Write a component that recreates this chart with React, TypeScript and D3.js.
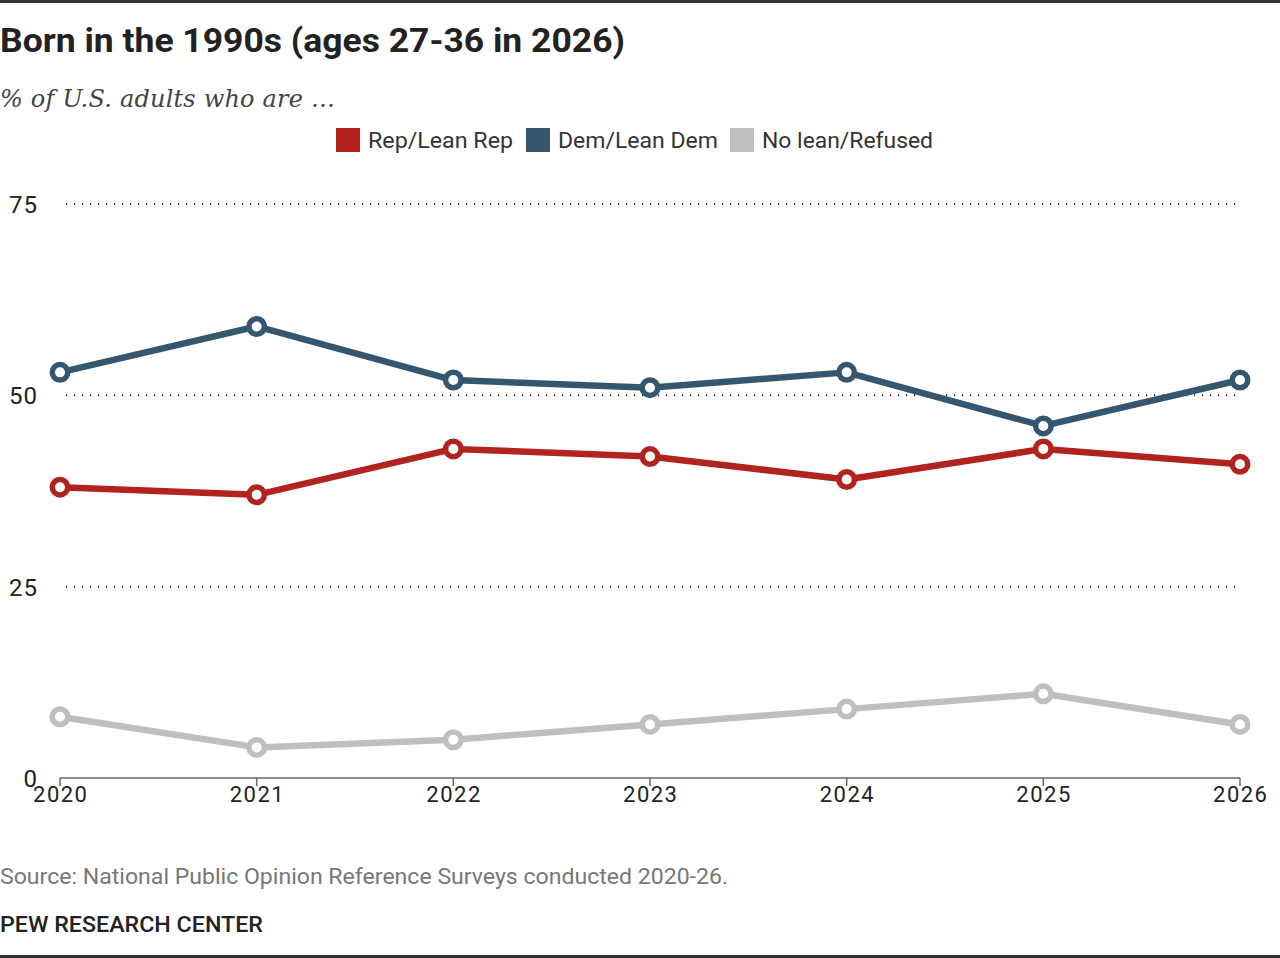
import React from "react";
import * as d3 from "d3";

const years = [2020, 2021, 2022, 2023, 2024, 2025, 2026];
const repValues = [38, 37, 43, 42, 39, 43, 41];
const demValues = [53, 59, 52, 51, 53, 46, 52];
const noLeanValues = [8, 4, 5, 7, 9, 11, 7];
const yTicks = [0, 25, 50, 75];
const seriesNames = ["Rep/Lean Rep", "Dem/Lean Dem", "No lean/Refused"];
const seriesColors = ["#b0231f", "#34566f", "#bfbfbf"];

const W = 1280;
const H = 958;

export default function App() {
  const x = d3.scaleLinear().domain([2020, 2026]).range([60, 1240]);
  const y = d3.scaleLinear().domain([0, 75]).range([778, 204]);
  const line = d3
    .line<number>()
    .x((_, i) => x(years[i]))
    .y((d) => y(d));
  const series = [repValues, demValues, noLeanValues];
  const drawOrder = [2, 0, 1];
  const sans = "Roboto, 'Liberation Sans', Arial, sans-serif";
  const legendX = [336, 526, 730];
  const legendLen = [145, 160, 171];

  return (
    <svg width={W} height={H} style={{ position: "absolute", left: 0, top: 0, background: "#fff" }}>
      <rect x={0} y={0} width={W} height={3} fill="#333" />
      <rect x={0} y={955} width={W} height={3} fill="#333" />
      <text x={0} y={52} fontFamily={sans} fontWeight={700} fontSize={34} fill="#222" textLength={625} lengthAdjust="spacingAndGlyphs">
        Born in the 1990s (ages 27-36 in 2026)
      </text>
      <text x={0} y={107} fontFamily="Georgia, 'DejaVu Serif', 'Liberation Serif', serif" fontStyle="italic" fontSize={24} fill="#444" textLength={335}>
        % of U.S. adults who are …
      </text>
      {seriesNames.map((n, i) => (
        <g key={n}>
          <rect x={legendX[i]} y={128} width={24} height={24} fill={seriesColors[i]} />
          <text x={legendX[i] + 32} y={148} fontFamily={sans} fontSize={21.5} fill="#333" textLength={legendLen[i]} lengthAdjust="spacingAndGlyphs">
            {n}
          </text>
        </g>
      ))}
      {yTicks.map((t) => (
        <g key={t}>
          {t > 0 && (
            <line x1={66} x2={1240} y1={y(t)} y2={y(t)} stroke="#222" strokeWidth={2} strokeDasharray="1.2,6.8" />
          )}
          <text x={38} y={y(t) + 9} textAnchor="end" fontFamily={sans} fontSize={24} fill="#222" letterSpacing={1}>
            {t}
          </text>
        </g>
      ))}
      <line x1={x(2020)} x2={x(2026)} y1={778} y2={778} stroke="#666" strokeWidth={1.5} />
      {years.map((yr) => (
        <g key={yr}>
          <line x1={x(yr)} x2={x(yr)} y1={778} y2={786} stroke="#666" strokeWidth={1.5} />
          <text x={x(yr) + 0.75} y={802} textAnchor="middle" fontFamily={sans} fontSize={22} fill="#222" letterSpacing={1.5}>
            {yr}
          </text>
        </g>
      ))}
      {drawOrder.map((si) => (
        <g key={si}>
          <path d={line(series[si]) || ""} fill="none" stroke={seriesColors[si]} strokeWidth={6.5} strokeLinejoin="round" />
          {series[si].map((v, i) => (
            <circle key={i} cx={x(years[i])} cy={y(v)} r={7.75} fill="#fff" stroke={seriesColors[si]} strokeWidth={5.5} />
          ))}
        </g>
      ))}
      <text x={0} y={884} fontFamily={sans} fontSize={21.5} fill="#777" textLength={728} lengthAdjust="spacingAndGlyphs">
        Source: National Public Opinion Reference Surveys conducted 2020-26.
      </text>
      <text x={0} y={932} fontFamily={sans} fontWeight={500} fontSize={21.5} fill="#222" textLength={263} lengthAdjust="spacingAndGlyphs">
        PEW RESEARCH CENTER
      </text>
    </svg>
  );
}
